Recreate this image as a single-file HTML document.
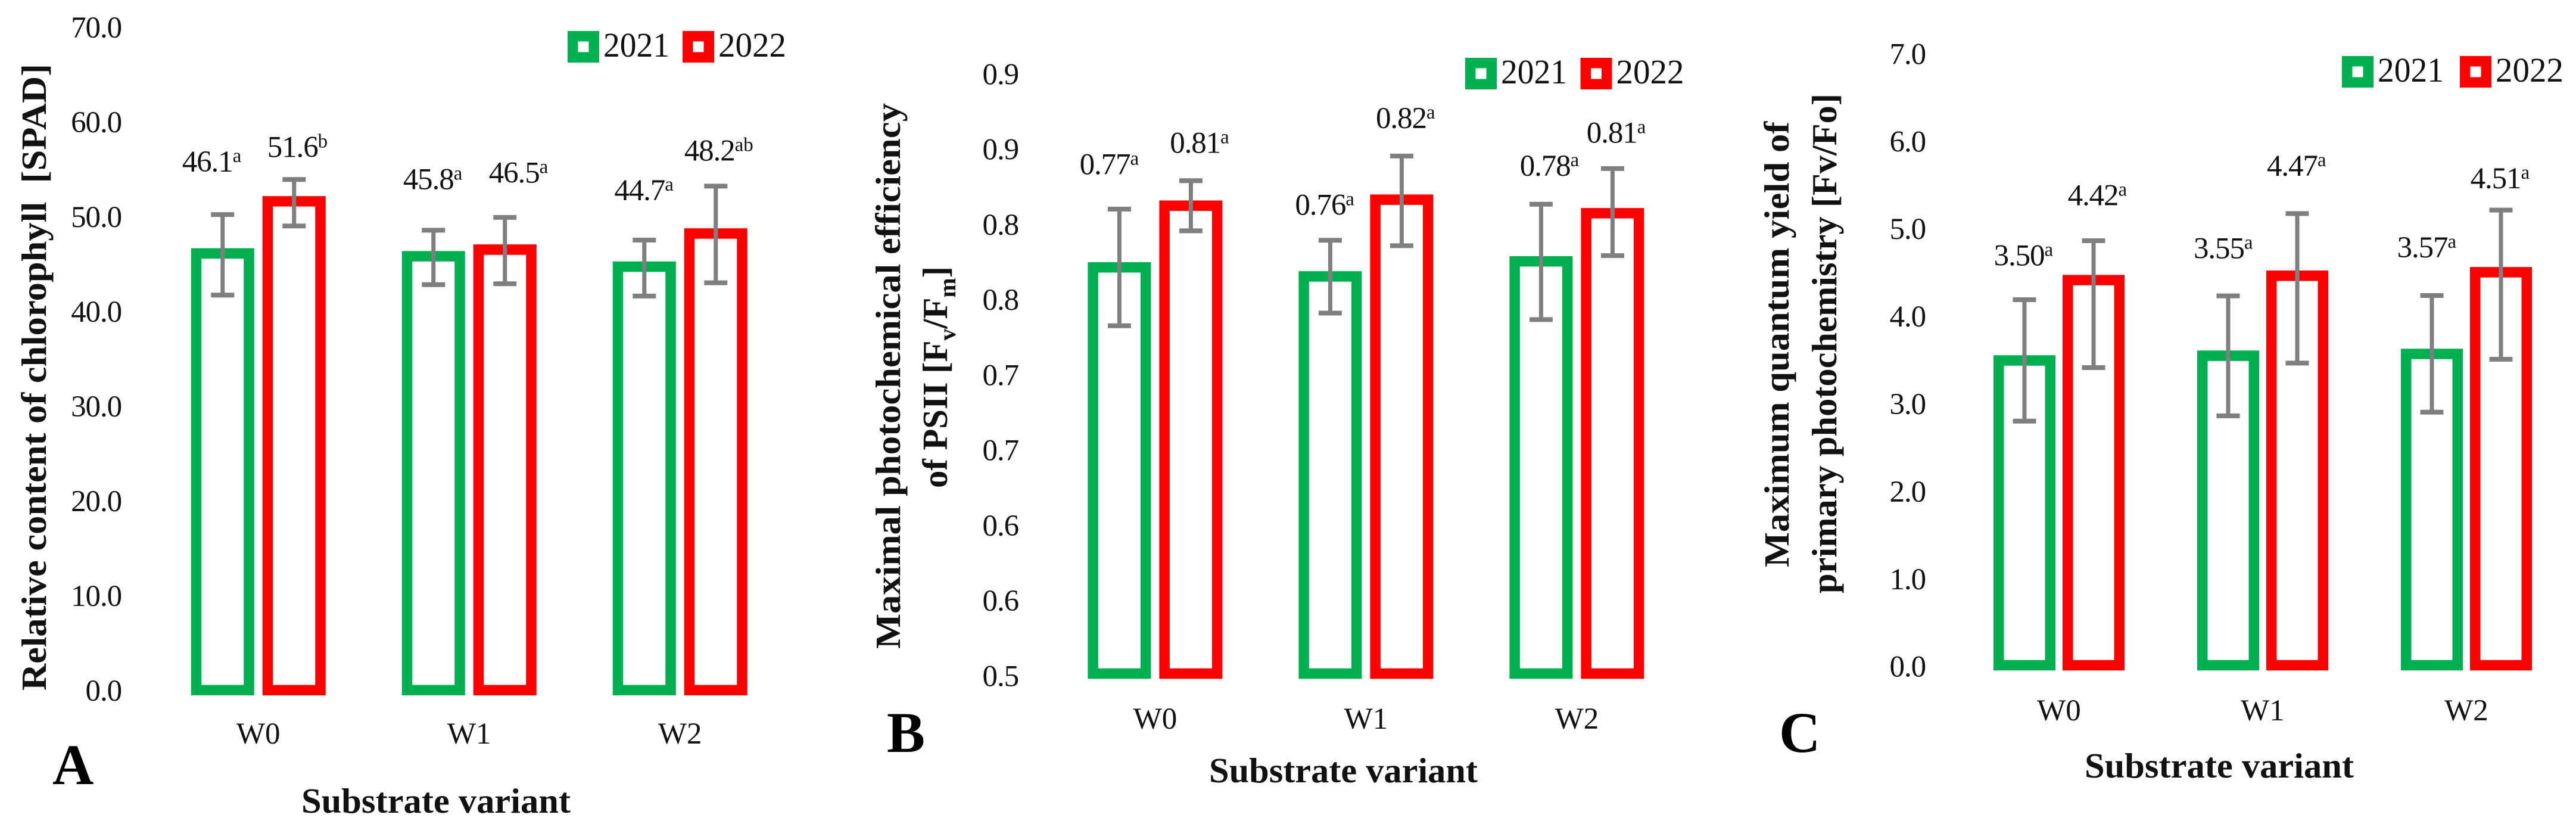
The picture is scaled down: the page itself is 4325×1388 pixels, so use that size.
<!DOCTYPE html>
<html lang="en">
<head>
<meta charset="utf-8">
<title>Substrate variant charts</title>
<style>
html,body{margin:0;padding:0;background:#fff;}
svg{display:block;}
text{font-family:"Liberation Serif",serif;fill:#111;white-space:pre;}
.t{font-size:51px;}
.n{letter-spacing:-1.1px;}
.b{font-weight:bold;font-size:59px;}
.l{font-weight:bold;font-size:96px;fill:#000;}
</style>
</head>
<body>
<svg id="fig" xmlns="http://www.w3.org/2000/svg" width="4325" height="1388" viewBox="0 0 4325 1388" xml:space="preserve">
<rect width="4325" height="1388" fill="#fff"/>

<text class="b" transform="translate(77 1159) rotate(-90)" textLength="1052" lengthAdjust="spacingAndGlyphs">Relative content of chlorophyll  [SPAD]</text>
<text class="b" transform="translate(1511 1089) rotate(-90)" textLength="916" lengthAdjust="spacingAndGlyphs">Maximal photochemical efficiency</text>
<text class="b" transform="translate(1590 819) rotate(-90)" textLength="372" lengthAdjust="spacingAndGlyphs">of PSII [F<tspan font-size="40" dy="14">v</tspan><tspan dy="-14">/F</tspan><tspan font-size="40" dy="14">m</tspan><tspan dy="-14">]</tspan></text>
<text class="b" transform="translate(3003 952) rotate(-90)" textLength="748" lengthAdjust="spacingAndGlyphs">Maximum quantum yield of</text>
<text class="b" transform="translate(3083 996) rotate(-90)" textLength="839" lengthAdjust="spacingAndGlyphs">primary photochemistry [Fv/Fo]</text>

<text class="b" x="506" y="1364" textLength="452" lengthAdjust="spacingAndGlyphs">Substrate variant</text>
<text class="b" x="2030" y="1313" textLength="451" lengthAdjust="spacingAndGlyphs">Substrate variant</text>
<text class="b" x="3500" y="1305" textLength="452" lengthAdjust="spacingAndGlyphs">Substrate variant</text>

<text class="l" x="88" y="1316">A</text>
<text class="l" x="1489" y="1262">B</text>
<text class="l" x="2987" y="1262">C</text>
</svg>

<script>
const categories = ['W0', 'W1', 'W2'];
const seriesNames = ['2021', '2022'];

const aTickValues = [0, 10, 20, 30, 40, 50, 60, 70];
const aTickLabels = ['0.0', '10.0', '20.0', '30.0', '40.0', '50.0', '60.0', '70.0'];
const aValues2021 = [46.1, 45.8, 44.7];
const aValues2022 = [51.6, 46.5, 48.2];
const aHigh2021 = [50.2, 48.55, 47.5];
const aLow2021 = [41.7, 42.8, 41.6];
const aHigh2022 = [53.9, 49.9, 53.2];
const aLow2022 = [49.0, 42.9, 43.0];
const aPrinted2021 = ['46.1', '45.8', '44.7'];
const aPrinted2022 = ['51.6', '46.5', '48.2'];
const aLetters2021 = ['a', 'a', 'a'];
const aLetters2022 = ['b', 'a', 'ab'];

const bTickValues = [0.5, 0.55, 0.6, 0.65, 0.7, 0.75, 0.8, 0.85, 0.9];
const bTickLabels = ['0.5', '0.6', '0.6', '0.7', '0.7', '0.8', '0.8', '0.9', '0.9'];
const bValues2021 = [0.77, 0.764, 0.774];
const bValues2022 = [0.811, 0.815, 0.806];
const bHigh2021 = [0.8087, 0.788, 0.812];
const bLow2021 = [0.7312, 0.7396, 0.7353];
const bHigh2022 = [0.8276, 0.844, 0.8357];
const bLow2022 = [0.7943, 0.7844, 0.7778];
const bPrinted2021 = ['0.77', '0.76', '0.78'];
const bPrinted2022 = ['0.81', '0.82', '0.81'];
const bLetters2021 = ['a', 'a', 'a'];
const bLetters2022 = ['a', 'a', 'a'];

const cTickValues = [0, 1, 2, 3, 4, 5, 6, 7];
const cTickLabels = ['0.0', '1.0', '2.0', '3.0', '4.0', '5.0', '6.0', '7.0'];
const cValues2021 = [3.482, 3.536, 3.557];
const cValues2022 = [4.40, 4.45, 4.49];
const cHigh2021 = [4.176, 4.22, 4.224];
const cLow2021 = [2.789, 2.849, 2.891];
const cHigh2022 = [4.85, 5.16, 5.2];
const cLow2022 = [3.40, 3.452, 3.496];
const cPrinted2021 = ['3.50', '3.55', '3.57'];
const cPrinted2022 = ['4.42', '4.47', '4.51'];
const cLetters2021 = ['a', 'a', 'a'];
const cLetters2022 = ['a', 'a', 'a'];

const NS = 'http://www.w3.org/2000/svg';
const svg = document.getElementById('fig');
const seriesColors = ['#00B050', '#FF0000'];
const STROKE = 17.5, ERR = '#7F7F7F';

function make(tag, attrs, parent) {
  const el = document.createElementNS(NS, tag);
  for (const k in attrs) el.setAttribute(k, attrs[k]);
  parent.appendChild(el);
  return el;
}

function drawChart(id, d, g) {
  const root = make('g', {}, svg);
  
  

  const yScale = v => g.yBase - (v - d.ticks[0]) * g.perUnit;
  const xCategory = i => g.first + g.step * i;
  const xBar = (i, s) => xCategory(i) + (s === 0 ? -g.offset : g.offset);

  d.ticks.forEach((v, i) => {
    const t = make('text', { class: 't n', x: g.tickRight, y: yScale(v) + g.tickDy, 'text-anchor': 'end' }, root);
    
    
    t.textContent = d.tickLabels[i];
  });

  categories.forEach((c, i) => {
    const t = make('text', { class: 't', x: xCategory(i), y: g.catY, 'text-anchor': 'middle' }, root);
    
    
    t.textContent = c;
  });

  [0, 1].forEach(s => {
    categories.forEach((c, i) => {
      const cx = xBar(i, s), top = yScale(d.values[s][i]);
      const bar = make('rect', {
        x: cx - g.barW / 2, y: top, width: g.barW, height: yScale(d.ticks[0]) - top,
        fill: 'none', stroke: seriesColors[s], 'stroke-width': STROKE
      }, root);
      
      
    });
  });

  [0, 1].forEach(s => {
    categories.forEach((c, i) => {
      const cx = xBar(i, s), hi = yScale(d.high[s][i]), lo = yScale(d.low[s][i]);
      const e = make('path', {
        d: 'M' + (cx - 19.5) + ' ' + hi + 'H' + (cx + 19.5) + 'M' + (cx - 19.5) + ' ' + lo + 'H' + (cx + 19.5),
        stroke: ERR, 'stroke-width': 8, fill: 'none'
      }, root);
      
      
      const st = make('line', { x1: cx, x2: cx, y1: hi, y2: lo, stroke: ERR, 'stroke-width': 7 }, root);
      
      
    });
  });

  [0, 1].forEach(s => {
    categories.forEach((c, i) => {
      const n = s * 3 + i;
      const t = make('text', { class: 't', x: xBar(i, s) + g.labelDx[n], y: yScale(d.high[s][i]) - g.labelLift[n] }, root);
      
      
      const num = make('tspan', { class: 'n' }, t);
      num.textContent = d.printed[s][i];
      const sup = make('tspan', { 'font-size': 33, dy: -16 }, t);
      sup.textContent = d.letters[s][i];
    });
  });

  [0, 1].forEach(s => {
    const sx = g.legendX[s];
    const box = make('rect', {
      x: sx + 8.75, y: g.legendY + 8.75, width: 35.5, height: 35.5,
      fill: '#fff', stroke: seriesColors[s], 'stroke-width': 17.5
    }, root);
    
    
    const lt = make('text', {
      x: sx + 60, y: g.legendY + 43, 'font-size': 58, textLength: s === 0 ? 111 : 114, lengthAdjust: 'spacingAndGlyphs'
    }, root);
    
    
    lt.textContent = seriesNames[s];
  });
}

drawChart('a', {
  ticks: aTickValues, tickLabels: aTickLabels,
  values: [aValues2021, aValues2022], high: [aHigh2021, aHigh2022], low: [aLow2021, aLow2022],
  printed: [aPrinted2021, aPrinted2022], letters: [aLetters2021, aLetters2022]
}, {
  yBase: 1158.3, perUnit: 15.9, tickRight: 204, tickDy: 17.6, catY: 1248,
  first: 433.75, step: 354, offset: 60, barW: 88.5,
  labelDx: [-68, -51, -50.4, -45, -27, -53],
  labelLift: [72, 69, 67, 38, 58.4, 43],
  legendX: [953, 1146], legendY: 52
});

drawChart('b', {
  ticks: bTickValues, tickLabels: bTickLabels,
  values: [bValues2021, bValues2022], high: [bHigh2021, bHigh2022], low: [bLow2021, bLow2022],
  printed: [bPrinted2021, bPrinted2022], letters: [bLetters2021, bLetters2022]
}, {
  yBase: 1130.5, perUnit: 2525, tickRight: 1710, tickDy: 20.8, catY: 1223,
  first: 1939.4, step: 354, offset: 60, barW: 88.5,
  labelDx: [-66.8, -59, -35.7, -35.2, -43.4, -43.6],
  labelLift: [58.6, 42.6, 47.8, 46.8, 47, 43.4],
  legendX: [2460, 2653.5], legendY: 97
});

drawChart('c', {
  ticks: cTickValues, tickLabels: cTickLabels,
  values: [cValues2021, cValues2022], high: [cHigh2021, cHigh2022], low: [cLow2021, cLow2022],
  printed: [cPrinted2021, cPrinted2022], letters: [cLetters2021, cLetters2022]
}, {
  yBase: 1116.5, perUnit: 146.9, tickRight: 3233, tickDy: 19.2, catY: 1209,
  first: 3457, step: 342, offset: 58, barW: 86.5,
  labelDx: [-51.4, -58, -58.4, -43.4, -51, -51.4],
  labelLift: [57.5, 63, 64, 59.5, 63.7, 36.5],
  legendX: [3932, 4130], legendY: 94
});
</script>
</body>
</html>
